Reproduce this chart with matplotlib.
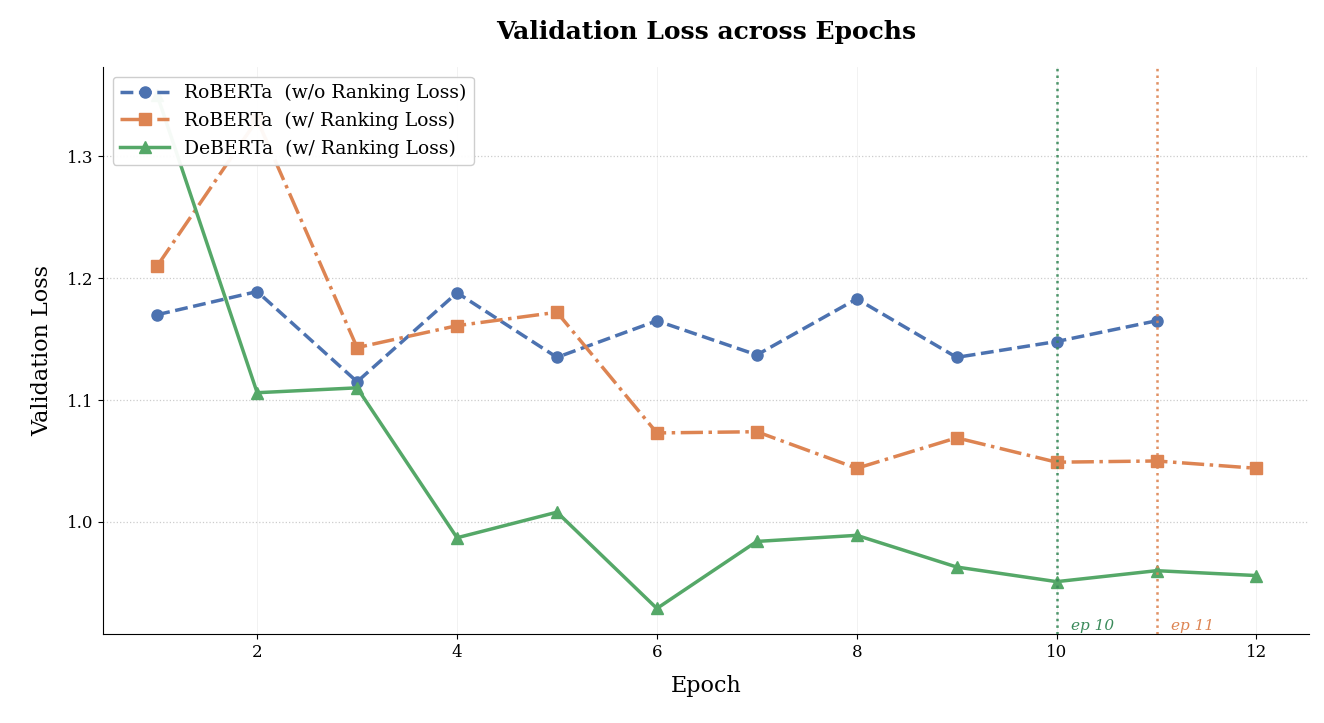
import matplotlib
matplotlib.use("Agg")
import matplotlib.pyplot as plt

plt.rcParams['font.family'] = ['DejaVu Serif']

epochs_a = list(range(1, 12))
roberta_wo = [1.170, 1.189, 1.115, 1.188, 1.135, 1.165, 1.137, 1.183, 1.135, 1.148, 1.165]
epochs_b = list(range(1, 13))
roberta_w = [1.210, 1.330, 1.143, 1.161, 1.172, 1.073, 1.074, 1.044, 1.069, 1.049, 1.050, 1.044]
deberta_w = [1.350, 1.106, 1.110, 0.987, 1.008, 0.929, 0.984, 0.989, 0.963, 0.951, 0.960, 0.956]
best_epochs = [10, 11]
best_labels = ["ep 10", "ep 11"]

c_blue, c_orange, c_green = "#4c72b0", "#dd8452", "#55a868"

fig, ax = plt.subplots(figsize=(13.24, 7.23), dpi=100)
fig.subplots_adjust(left=0.078, right=0.989, top=0.907, bottom=0.123)

ax.plot(epochs_a, roberta_wo, ls='--', marker='o', color=c_blue, lw=2.5, ms=8,
        label="RoBERTa  (w/o Ranking Loss)")
ax.plot(epochs_b, roberta_w, ls='-.', marker='s', color=c_orange, lw=2.5, ms=8,
        label="RoBERTa  (w/ Ranking Loss)")
ax.plot(epochs_b, deberta_w, ls='-', marker='^', color=c_green, lw=2.5, ms=8,
        label="DeBERTa  (w/ Ranking Loss)")

for e, lab, c in zip(best_epochs, best_labels, ["#3a8a5a", c_orange]):
    ax.axvline(e, color=c, ls=':', lw=1.8, alpha=0.9)
    ax.text(e + 0.14, 0.909, lab, color=c, fontsize=11, style='italic', va='bottom')

ax.set_xlim(0.46, 12.53)
ax.set_ylim(0.908, 1.373)
ax.set_xticks([2, 4, 6, 8, 10, 12])
ax.set_yticks([1.0, 1.1, 1.2, 1.3])
ax.grid(axis='y', ls=':', color='#cccccc', lw=0.9)
ax.grid(axis='x', ls='-', color='#f0f0f0', lw=0.6)
ax.spines['top'].set_visible(False)
ax.spines['right'].set_visible(False)
ax.tick_params(labelsize=12)
ax.set_xlabel("Epoch", fontsize=16, labelpad=10)
ax.set_ylabel("Validation Loss", fontsize=16, labelpad=10)
ax.set_title("Validation Loss across Epochs", fontsize=18, fontweight='bold', pad=20)
ax.legend(loc='upper left', fontsize=13.5, framealpha=0.95, borderaxespad=0.5,
          handlelength=2.6)

fig.savefig("out.png", dpi=100)
